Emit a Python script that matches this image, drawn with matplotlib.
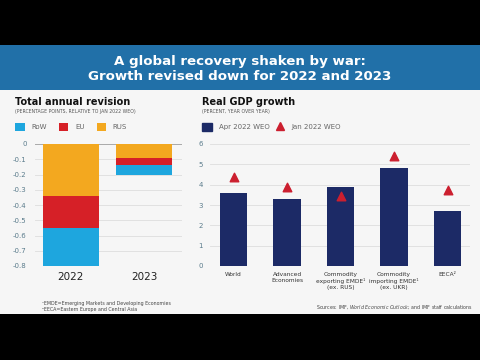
import matplotlib.pyplot as plt
from matplotlib.patches import Rectangle
from matplotlib.lines import Line2D

# Left panel: total annual revision (percentage points)
years = ["2022", "2023"]
rus = [-0.34, -0.09]
eu = [-0.21, -0.05]
row = [-0.25, -0.06]

# Right panel: real GDP growth
groups = ["World", "Advanced\nEconomies", "Commodity\nexporting EMDE¹\n(ex. RUS)",
          "Commodity\nimporting EMDE¹\n(ex. UKR)", "EECA²"]
apr_2022 = [3.6, 3.3, 3.9, 4.8, 2.7]
jan_2022 = [4.4, 3.9, 3.45, 5.4, 3.75]

C_ROW, C_EU, C_RUS = "#1ea6de", "#d62027", "#f3a81f"
C_NAVY, C_TRI = "#1c2a66", "#cc1f2f"
TICK_C = "#5b7c8c"
BG = "#f6f6f6"

fig = plt.figure(figsize=(4.8, 3.6), dpi=100)
fig.patch.set_facecolor("black")

# panel background and banner
fig.patches.append(Rectangle((0, 46 / 360), 1, 224 / 360, transform=fig.transFigure,
                             facecolor=BG, edgecolor="none", zorder=-10))
fig.patches.append(Rectangle((0, 270 / 360), 1, 45 / 360, transform=fig.transFigure,
                             facecolor="#2170a8", edgecolor="none", zorder=-10))
fig.text(0.5, 1 - 61 / 360, "A global recovery shaken by war:", ha="center", va="center",
         color="white", fontsize=9.6, fontweight="bold")
fig.text(0.5, 1 - 76 / 360, "Growth revised down for 2022 and 2023", ha="center", va="center",
         color="white", fontsize=9.6, fontweight="bold")

# ---- left chart
ax1 = fig.add_axes([35 / 480, 1 - 266 / 360, 147 / 480, 122 / 360])
ax1.set_facecolor(BG)
x = range(len(years))
ax1.bar(x, rus, width=0.77, color=C_RUS, label="RUS", zorder=3)
ax1.bar(x, eu, width=0.77, bottom=rus, color=C_EU, label="EU", zorder=3)
bottom2 = [a + b for a, b in zip(rus, eu)]
ax1.bar(x, row, width=0.77, bottom=bottom2, color=C_ROW, label="RoW", zorder=3)
ax1.set_ylim(-0.8, 0)
ax1.set_xlim(-0.49, 1.52)
ax1.set_yticks([0, -0.1, -0.2, -0.3, -0.4, -0.5, -0.6, -0.7, -0.8])
ax1.set_yticklabels(["0", "-0.1", "-0.2", "-0.3", "-0.4", "-0.5", "-0.6", "-0.7", "-0.8"])
ax1.set_xticks(list(x))
ax1.set_xticklabels(years, fontsize=7.5, color="#222222")
ax1.tick_params(axis="y", labelsize=5, colors=TICK_C, length=0, pad=6)
ax1.tick_params(axis="x", length=0, pad=4)
ax1.grid(axis="y", color="#dddddd", linewidth=0.6, zorder=0)
ax1.axhline(0, color="#aaaaaa", linewidth=0.7, zorder=2)
for s in ax1.spines.values():
    s.set_visible(False)
h, l = ax1.get_legend_handles_labels()
ax1.legend(h[::-1], l[::-1], ncol=3, loc="center left", bbox_to_anchor=(9 / 480, 1 - 127 / 360),
           bbox_transform=fig.transFigure, frameon=False, fontsize=5, handlelength=1.35,
           handleheight=1.35, columnspacing=1.7, handletextpad=1.0, labelcolor="#666666")

fig.text(15 / 480, 1 - 102 / 360, "Total annual revision", fontsize=7, fontweight="bold",
         va="center", color="#111111")
fig.text(15 / 480, 1 - 111 / 360, "(PERCENTAGE POINTS, RELATIVE TO JAN 2022 WEO)", fontsize=3.3,
         va="center", color="#555555")

# ---- right chart
ax2 = fig.add_axes([210 / 480, 1 - 266 / 360, 260 / 480, 122 / 360])
ax2.set_facecolor(BG)
xs = range(len(groups))
ax2.bar(xs, apr_2022, width=0.52, color=C_NAVY, label="Apr 2022 WEO", zorder=3)
ax2.scatter(xs, jan_2022, marker="^", s=38, color=C_TRI, label="Jan 2022 WEO", zorder=4)
ax2.set_ylim(0, 6)
ax2.set_xlim(-0.44, 4.42)
ax2.set_yticks(range(7))
ax2.set_xticks(list(xs))
ax2.set_xticklabels(groups, fontsize=4.2, color="#333333", linespacing=1.3)
ax2.tick_params(axis="y", labelsize=5, colors=TICK_C, length=0, pad=5)
ax2.tick_params(axis="x", length=0, pad=4)
ax2.grid(axis="y", color="#dddddd", linewidth=0.6, zorder=0)
ax2.axhline(0, color="#aaaaaa", linewidth=0.7, zorder=2)
for s in ax2.spines.values():
    s.set_visible(False)
handles = [Rectangle((0, 0), 1, 1, color=C_NAVY),
           Line2D([], [], marker="^", linestyle="none", color=C_TRI, markersize=6)]
ax2.legend(handles, ["Apr 2022 WEO", "Jan 2022 WEO"], ncol=2, loc="center left",
           bbox_to_anchor=(196 / 480, 1 - 127 / 360), bbox_transform=fig.transFigure,
           frameon=False, fontsize=5, handlelength=1.35, handleheight=1.35, columnspacing=0.8,
           handletextpad=1.0, labelcolor="#666666")

fig.text(202 / 480, 1 - 102 / 360, "Real GDP growth", fontsize=7, fontweight="bold",
         va="center", color="#111111")
fig.text(202 / 480, 1 - 111 / 360, "(PERCENT, YEAR OVER YEAR)", fontsize=3.3,
         va="center", color="#555555")

# footnotes
fig.text(42 / 480, 1 - 303 / 360, "¹EMDE=Emerging Markets and Developing Economies",
         fontsize=3.4, va="center", color="#444444")
fig.text(42 / 480, 1 - 310 / 360, "²EECA=Eastern Europe and Central Asia",
         fontsize=3.4, va="center", color="#444444")
fig.text(473 / 480, 1 - 307 / 360, "Sources: IMF, $\\it{World\\ Economic\\ Outlook}$; and IMF staff calculations",
         fontsize=3.4, va="center", ha="right", color="#444444")

fig.savefig("out.png", dpi=100, facecolor=fig.get_facecolor())
